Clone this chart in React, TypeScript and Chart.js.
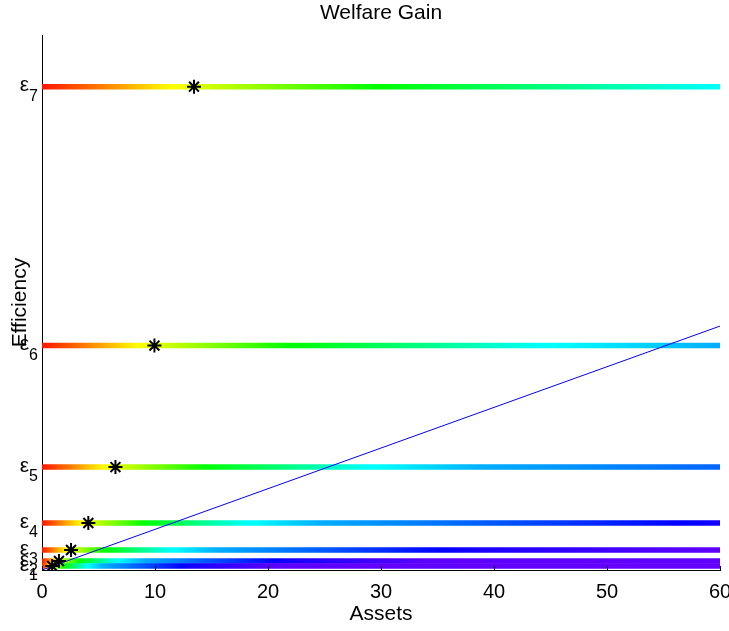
import { useEffect, useRef } from 'react';
import { Chart, registerables } from 'chart.js';

Chart.register(...registerables);

// ---- data ----
const LEVEL_LABELS = ['1', '2', '3', '4', '5', '6', '7'];
const EFFICIENCY = [0.04, 0.09, 0.2, 0.47, 1.03, 2.245, 4.835];
const STAR_ASSETS = [0.9, 1.5, 2.57, 4.1, 6.5, 9.95, 13.45];
const BAR_X = [0, 60];
const DIAG_X = [0, 60];
const DIAG_Y = [0, 2.44];
const X_TICKS = [0, 10, 20, 30, 40, 50, 60];
// hue (degrees) as a function of assets / star-assets of the level
const HUE_U = [0, 0.4, 0.85, 2.2, 4.4, 6, 9.3, 14.7, 23, 100];
const HUE_DEG = [5, 30, 60, 120, 178, 199, 217, 245, 262, 265];

function hueAt(u: number): number {
  if (u <= HUE_U[0]) return HUE_DEG[0];
  for (let i = 1; i < HUE_U.length; i++) {
    if (u <= HUE_U[i]) {
      const t = (u - HUE_U[i - 1]) / (HUE_U[i] - HUE_U[i - 1]);
      return HUE_DEG[i - 1] + t * (HUE_DEG[i] - HUE_DEG[i - 1]);
    }
  }
  return HUE_DEG[HUE_DEG.length - 1];
}

function hsv(h: number): string {
  const hh = ((h % 360) + 360) % 360 / 60;
  const x = 1 - Math.abs((hh % 2) - 1);
  let r = 0, g = 0, b = 0;
  if (hh < 1) { r = 1; g = x; }
  else if (hh < 2) { r = x; g = 1; }
  else if (hh < 3) { g = 1; b = x; }
  else if (hh < 4) { g = x; b = 1; }
  else if (hh < 5) { r = x; b = 1; }
  else { r = 1; b = x; }
  return `rgb(${Math.round(r * 255)},${Math.round(g * 255)},${Math.round(b * 255)})`;
}

const FONT = "'Liberation Sans', Arial, Helvetica, sans-serif";

export default function App() {
  const ref = useRef<HTMLCanvasElement | null>(null);

  useEffect(() => {
    const canvas = ref.current;
    if (!canvas) return;

    const barDatasets = EFFICIENCY.map((e, i) => ({
      type: 'line' as const,
      label: 'e' + LEVEL_LABELS[i],
      data: BAR_X.map((x) => ({ x, y: e })),
      borderWidth: 5.5,
      borderCapStyle: 'butt' as const,
      pointRadius: 0,
      order: 2,
      borderColor: (ctx: any) => {
        const chart = ctx.chart;
        const xs = chart.scales?.x;
        if (!chart.chartArea || !xs) return hsv(0);
        const x0 = xs.getPixelForValue(BAR_X[0]);
        const x1 = xs.getPixelForValue(BAR_X[1]);
        const g = chart.ctx.createLinearGradient(x0, 0, x1, 0);
        const n = 150;
        for (let k = 0; k <= n; k++) {
          const xv = BAR_X[0] + (BAR_X[1] - BAR_X[0]) * (k / n);
          g.addColorStop(k / n, hsv(hueAt(xv / STAR_ASSETS[i])));
        }
        return g;
      },
    }));

    const labelPlugin = {
      id: 'epsLabels',
      afterDraw(chart: any) {
        const c = chart.ctx;
        const ys = chart.scales.y;
        const xs = chart.scales.x;
        c.save();
        c.fillStyle = '#000';
        EFFICIENCY.forEach((e, i) => {
          const y = ys.getPixelForValue(e);
          c.font = `21px ${FONT}`;
          c.textAlign = 'right';
          c.textBaseline = 'alphabetic';
          c.fillText('ε', 29, y + 4.5);
          c.font = `16px ${FONT}`;
          c.textAlign = 'left';
          c.fillText(LEVEL_LABELS[i], 29, y + 14);
        });
        c.strokeStyle = '#000';
        c.lineWidth = 1;
        X_TICKS.forEach((t) => {
          const px = Math.round(xs.getPixelForValue(t)) + 0.5;
          c.beginPath();
          c.moveTo(px, chart.chartArea.bottom);
          c.lineTo(px, chart.chartArea.bottom - 4);
          c.stroke();
        });
        c.restore();
      },
    };

    const chart = new Chart(canvas, {
      type: 'line',
      data: {
        datasets: [
          ...barDatasets,
          {
            type: 'line',
            label: 'diag',
            data: DIAG_X.map((x, i) => ({ x, y: DIAG_Y[i] })),
            borderColor: '#0000ff',
            borderWidth: 1,
            pointRadius: 0,
            order: 1,
          },
          {
            type: 'line',
            label: 'stars',
            data: STAR_ASSETS.map((x, i) => ({ x, y: EFFICIENCY[i] })),
            showLine: false,
            pointStyle: 'star',
            pointRadius: 7,
            pointBorderWidth: 2,
            pointBorderColor: '#000',
            pointBackgroundColor: '#000',
            order: 0,
          },
        ] as any,
      },
      options: {
        responsive: false,
        animation: false,
        layout: { padding: { left: 0, right: 9, top: 0, bottom: 0 } },
        plugins: {
          legend: { display: false },
          tooltip: { enabled: false },
          title: {
            display: true,
            fullSize: false,
            text: 'Welfare Gain',
            color: '#000',
            font: { family: FONT, size: 21, weight: 'normal' },
            padding: { top: 1, bottom: 9 },
          },
        },
        scales: {
          x: {
            type: 'linear',
            min: 0,
            max: 60,
            afterBuildTicks: (s: any) => {
              s.ticks = X_TICKS.map((v) => ({ value: v }));
            },
            afterFit: (s: any) => {
              s.height = 61;
              s.paddingLeft = 0;
              s.paddingRight = 0;
            },
            grid: { display: false, drawTicks: false },
            border: { display: true, color: '#000', width: 1 },
            ticks: {
              color: '#000',
              font: { family: FONT, size: 20 },
              padding: 10,
              maxRotation: 0,
              autoSkip: false,
            },
            title: {
              display: true,
              text: 'Assets',
              color: '#000',
              font: { family: FONT, size: 21 },
              padding: { top: 0, bottom: 4 },
            },
          },
          y: {
            type: 'linear',
            min: 0,
            max: 5.35,
            afterFit: (s: any) => {
              s.width = 42;
              s.paddingTop = 0;
              s.paddingBottom = 0;
            },
            grid: { display: false, drawTicks: false },
            border: { display: true, color: '#000', width: 1 },
            ticks: { display: false },
            title: {
              display: true,
              text: 'Efficiency',
              color: '#000',
              font: { family: FONT, size: 21 },
              padding: { top: 8, bottom: 0 },
            },
          },
        },
      },
      plugins: [labelPlugin],
    });

    return () => chart.destroy();
  }, []);

  return (
    <div style={{ position: 'absolute', left: 0, top: 0, width: 729, height: 631, background: '#fff' }}>
      <canvas ref={ref} width={729} height={631} style={{ display: 'block' }} />
    </div>
  );
}
